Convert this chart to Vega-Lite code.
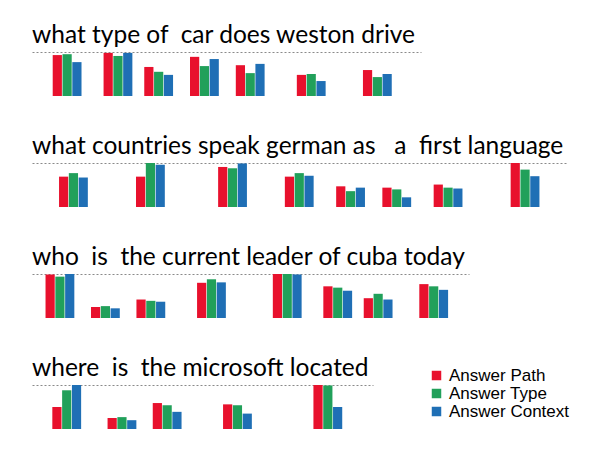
{
  "$schema": "https://vega.github.io/schema/vega-lite/v6.json",
  "background": "white",
  "padding": {"left": 32, "top": 22, "right": 5, "bottom": 5},
  "config": {
    "view": {"stroke": null},
    "concat": {"spacing": 37},
    "title": {"font": "Lato", "fontSize": 24.5, "fontWeight": "normal", "color": "#000000", "anchor": "start", "offset": 4},
    "axisX": {"orient": "top", "labels": false, "ticks": false, "grid": false, "title": null, "domainDash": [2, 2], "domainColor": "#8a8a8a", "domainWidth": 1},
    "legend": {"labelFont": "Liberation Sans", "labelFontSize": 17, "labelColor": "#000000", "symbolType": "square", "symbolSize": 90, "symbolStrokeWidth": 0, "rowPadding": 0, "labelOffset": 4},
    "bar": {"width": 9.2, "orient": "vertical"}
  },
  "data": {"values": [
    {"q": 1, "word": "what", "c": 2, "type": "Answer Path", "value": 0.93},
    {"q": 1, "word": "what", "c": 2, "type": "Answer Type", "value": 0.95},
    {"q": 1, "word": "what", "c": 2, "type": "Answer Context", "value": 0.77},
    {"q": 1, "word": "type", "c": 7, "type": "Answer Path", "value": 0.98},
    {"q": 1, "word": "type", "c": 7, "type": "Answer Type", "value": 0.91},
    {"q": 1, "word": "type", "c": 7, "type": "Answer Context", "value": 0.98},
    {"q": 1, "word": "of", "c": 11, "type": "Answer Path", "value": 0.66},
    {"q": 1, "word": "of", "c": 11, "type": "Answer Type", "value": 0.55},
    {"q": 1, "word": "of", "c": 11, "type": "Answer Context", "value": 0.48},
    {"q": 1, "word": "car", "c": 15.5, "type": "Answer Path", "value": 0.89},
    {"q": 1, "word": "car", "c": 15.5, "type": "Answer Type", "value": 0.68},
    {"q": 1, "word": "car", "c": 15.5, "type": "Answer Context", "value": 0.84},
    {"q": 1, "word": "does", "c": 20, "type": "Answer Path", "value": 0.70},
    {"q": 1, "word": "does", "c": 20, "type": "Answer Type", "value": 0.52},
    {"q": 1, "word": "does", "c": 20, "type": "Answer Context", "value": 0.73},
    {"q": 1, "word": "weston", "c": 26, "type": "Answer Path", "value": 0.48},
    {"q": 1, "word": "weston", "c": 26, "type": "Answer Type", "value": 0.50},
    {"q": 1, "word": "weston", "c": 26, "type": "Answer Context", "value": 0.34},
    {"q": 1, "word": "drive", "c": 32.5, "type": "Answer Path", "value": 0.59},
    {"q": 1, "word": "drive", "c": 32.5, "type": "Answer Type", "value": 0.43},
    {"q": 1, "word": "drive", "c": 32.5, "type": "Answer Context", "value": 0.50},

    {"q": 2, "word": "what", "c": 2, "type": "Answer Path", "value": 0.69},
    {"q": 2, "word": "what", "c": 2, "type": "Answer Type", "value": 0.77},
    {"q": 2, "word": "what", "c": 2, "type": "Answer Context", "value": 0.67},
    {"q": 2, "word": "countries", "c": 9.5, "type": "Answer Path", "value": 0.69},
    {"q": 2, "word": "countries", "c": 9.5, "type": "Answer Type", "value": 1.0},
    {"q": 2, "word": "countries", "c": 9.5, "type": "Answer Context", "value": 0.96},
    {"q": 2, "word": "speak", "c": 17.5, "type": "Answer Path", "value": 0.91},
    {"q": 2, "word": "speak", "c": 17.5, "type": "Answer Type", "value": 0.88},
    {"q": 2, "word": "speak", "c": 17.5, "type": "Answer Context", "value": 0.99},
    {"q": 2, "word": "german", "c": 24, "type": "Answer Path", "value": 0.69},
    {"q": 2, "word": "german", "c": 24, "type": "Answer Type", "value": 0.77},
    {"q": 2, "word": "german", "c": 24, "type": "Answer Context", "value": 0.71},
    {"q": 2, "word": "as", "c": 29, "type": "Answer Path", "value": 0.47},
    {"q": 2, "word": "as", "c": 29, "type": "Answer Type", "value": 0.36},
    {"q": 2, "word": "as", "c": 29, "type": "Answer Context", "value": 0.44},
    {"q": 2, "word": "a", "c": 33.5, "type": "Answer Path", "value": 0.44},
    {"q": 2, "word": "a", "c": 33.5, "type": "Answer Type", "value": 0.40},
    {"q": 2, "word": "a", "c": 33.5, "type": "Answer Context", "value": 0.22},
    {"q": 2, "word": "first", "c": 38.5, "type": "Answer Path", "value": 0.51},
    {"q": 2, "word": "first", "c": 38.5, "type": "Answer Type", "value": 0.44},
    {"q": 2, "word": "first", "c": 38.5, "type": "Answer Context", "value": 0.42},
    {"q": 2, "word": "language", "c": 46, "type": "Answer Path", "value": 1.0},
    {"q": 2, "word": "language", "c": 46, "type": "Answer Type", "value": 0.85},
    {"q": 2, "word": "language", "c": 46, "type": "Answer Context", "value": 0.70},

    {"q": 3, "word": "who", "c": 1.5, "type": "Answer Path", "value": 0.99},
    {"q": 3, "word": "who", "c": 1.5, "type": "Answer Type", "value": 0.94},
    {"q": 3, "word": "who", "c": 1.5, "type": "Answer Context", "value": 1.0},
    {"q": 3, "word": "is", "c": 6, "type": "Answer Path", "value": 0.25},
    {"q": 3, "word": "is", "c": 6, "type": "Answer Type", "value": 0.27},
    {"q": 3, "word": "is", "c": 6, "type": "Answer Context", "value": 0.22},
    {"q": 3, "word": "the", "c": 10.5, "type": "Answer Path", "value": 0.42},
    {"q": 3, "word": "the", "c": 10.5, "type": "Answer Type", "value": 0.39},
    {"q": 3, "word": "the", "c": 10.5, "type": "Answer Context", "value": 0.37},
    {"q": 3, "word": "current", "c": 16.5, "type": "Answer Path", "value": 0.80},
    {"q": 3, "word": "current", "c": 16.5, "type": "Answer Type", "value": 0.88},
    {"q": 3, "word": "current", "c": 16.5, "type": "Answer Context", "value": 0.81},
    {"q": 3, "word": "leader", "c": 24, "type": "Answer Path", "value": 1.0},
    {"q": 3, "word": "leader", "c": 24, "type": "Answer Type", "value": 1.0},
    {"q": 3, "word": "leader", "c": 24, "type": "Answer Context", "value": 0.99},
    {"q": 3, "word": "of", "c": 29, "type": "Answer Path", "value": 0.72},
    {"q": 3, "word": "of", "c": 29, "type": "Answer Type", "value": 0.69},
    {"q": 3, "word": "of", "c": 29, "type": "Answer Context", "value": 0.62},
    {"q": 3, "word": "cuba", "c": 33, "type": "Answer Path", "value": 0.45},
    {"q": 3, "word": "cuba", "c": 33, "type": "Answer Type", "value": 0.55},
    {"q": 3, "word": "cuba", "c": 33, "type": "Answer Context", "value": 0.42},
    {"q": 3, "word": "today", "c": 38.5, "type": "Answer Path", "value": 0.77},
    {"q": 3, "word": "today", "c": 38.5, "type": "Answer Type", "value": 0.72},
    {"q": 3, "word": "today", "c": 38.5, "type": "Answer Context", "value": 0.64},

    {"q": 4, "word": "where", "c": 2.5, "type": "Answer Path", "value": 0.50},
    {"q": 4, "word": "where", "c": 2.5, "type": "Answer Type", "value": 0.88},
    {"q": 4, "word": "where", "c": 2.5, "type": "Answer Context", "value": 1.0},
    {"q": 4, "word": "is", "c": 8, "type": "Answer Path", "value": 0.25},
    {"q": 4, "word": "is", "c": 8, "type": "Answer Type", "value": 0.27},
    {"q": 4, "word": "is", "c": 8, "type": "Answer Context", "value": 0.20},
    {"q": 4, "word": "the", "c": 12.5, "type": "Answer Path", "value": 0.59},
    {"q": 4, "word": "the", "c": 12.5, "type": "Answer Type", "value": 0.54},
    {"q": 4, "word": "the", "c": 12.5, "type": "Answer Context", "value": 0.39},
    {"q": 4, "word": "microsoft", "c": 19.5, "type": "Answer Path", "value": 0.56},
    {"q": 4, "word": "microsoft", "c": 19.5, "type": "Answer Type", "value": 0.54},
    {"q": 4, "word": "microsoft", "c": 19.5, "type": "Answer Context", "value": 0.35},
    {"q": 4, "word": "located", "c": 28.5, "type": "Answer Path", "value": 1.0},
    {"q": 4, "word": "located", "c": 28.5, "type": "Answer Type", "value": 0.99},
    {"q": 4, "word": "located", "c": 28.5, "type": "Answer Context", "value": 0.50}
  ]},
  "vconcat": [
    {
      "title": "what type of\u00a0 car does weston drive",
      "width": 389, "height": 44,
      "transform": [{"filter": "datum.q == 1"}],
      "encoding": {
        "x": {"field": "c", "type": "quantitative", "scale": {"domain": [-0.96, 36.3], "nice": false, "zero": false}},
        "y": {"field": "value", "type": "quantitative", "stack": null, "scale": {"domain": [0, 1]}, "axis": null},
        "color": {"field": "type", "type": "nominal",
          "scale": {"domain": ["Answer Path", "Answer Type", "Answer Context"], "range": ["#e8112d", "#21a05a", "#1f6fb5"]},
          "legend": {"title": null, "orient": "none", "legendX": 396, "legendY": 315}}
      },
      "layer": [
        {"transform": [{"filter": "datum.type === 'Answer Path'"}], "mark": {"type": "bar", "xOffset": -9.8}},
        {"transform": [{"filter": "datum.type === 'Answer Type'"}], "mark": {"type": "bar", "xOffset": 0}},
        {"transform": [{"filter": "datum.type === 'Answer Context'"}], "mark": {"type": "bar", "xOffset": 9.8}}
      ]
    },
    {
      "title": "what countries speak german as\u00a0\u00a0 a\u00a0 first language",
      "width": 535, "height": 44,
      "transform": [{"filter": "datum.q == 2"}],
      "encoding": {
        "x": {"field": "c", "type": "quantitative", "scale": {"domain": [-1.55, 49.6], "nice": false, "zero": false}},
        "y": {"field": "value", "type": "quantitative", "stack": null, "scale": {"domain": [0, 1]}, "axis": null},
        "color": {"field": "type", "type": "nominal"}
      },
      "layer": [
        {"transform": [{"filter": "datum.type === 'Answer Path'"}], "mark": {"type": "bar", "xOffset": -9.8}},
        {"transform": [{"filter": "datum.type === 'Answer Type'"}], "mark": {"type": "bar", "xOffset": 0}},
        {"transform": [{"filter": "datum.type === 'Answer Context'"}], "mark": {"type": "bar", "xOffset": 9.8}}
      ]
    },
    {
      "title": "who\u00a0 is\u00a0 the current leader of cuba today",
      "width": 437, "height": 44,
      "transform": [{"filter": "datum.q == 3"}],
      "encoding": {
        "x": {"field": "c", "type": "quantitative", "scale": {"domain": [-0.77, 41.5], "nice": false, "zero": false}},
        "y": {"field": "value", "type": "quantitative", "stack": null, "scale": {"domain": [0, 1]}, "axis": null},
        "color": {"field": "type", "type": "nominal"}
      },
      "layer": [
        {"transform": [{"filter": "datum.type === 'Answer Path'"}], "mark": {"type": "bar", "xOffset": -9.8}},
        {"transform": [{"filter": "datum.type === 'Answer Type'"}], "mark": {"type": "bar", "xOffset": 0}},
        {"transform": [{"filter": "datum.type === 'Answer Context'"}], "mark": {"type": "bar", "xOffset": 9.8}}
      ]
    },
    {
      "title": "where\u00a0 is\u00a0 the microsoft located",
      "width": 341, "height": 44,
      "transform": [{"filter": "datum.q == 4"}],
      "encoding": {
        "x": {"field": "c", "type": "quantitative", "scale": {"domain": [-0.46, 32.5], "nice": false, "zero": false}},
        "y": {"field": "value", "type": "quantitative", "stack": null, "scale": {"domain": [0, 1]}, "axis": null},
        "color": {"field": "type", "type": "nominal"}
      },
      "layer": [
        {"transform": [{"filter": "datum.type === 'Answer Path'"}], "mark": {"type": "bar", "xOffset": -9.8}},
        {"transform": [{"filter": "datum.type === 'Answer Type'"}], "mark": {"type": "bar", "xOffset": 0}},
        {"transform": [{"filter": "datum.type === 'Answer Context'"}], "mark": {"type": "bar", "xOffset": 9.8}}
      ]
    }
  ]
}
